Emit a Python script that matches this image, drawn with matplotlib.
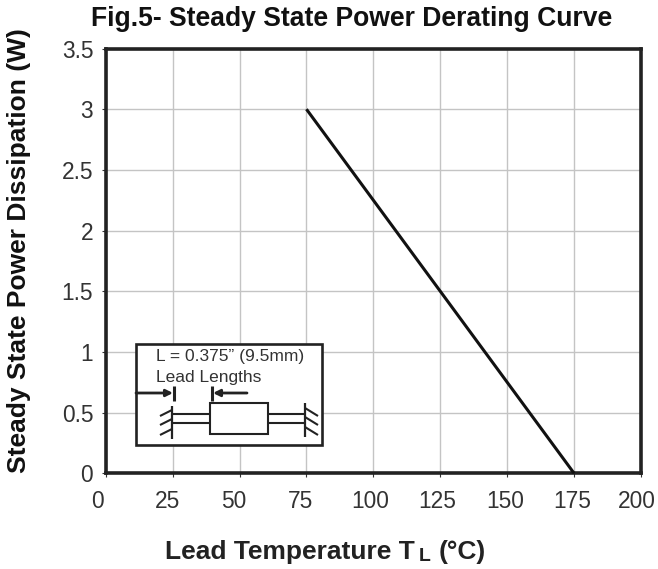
import matplotlib
matplotlib.use("Agg")
import matplotlib.pyplot as plt
from matplotlib.transforms import ScaledTranslation

plt.rcParams["font.family"] = ["Liberation Sans", "DejaVu Sans"]

temperature = [75, 175]
power = [3, 0]
x_ticks = [0, 25, 50, 75, 100, 125, 150, 175, 200]
y_ticks = [0, 0.5, 1, 1.5, 2, 2.5, 3, 3.5]
y_labels = ["0", "0.5", "1", "1.5", "2", "2.5", "3", "3.5"]

W, H = 658, 569

fig = plt.figure(figsize=(W / 100, H / 100), dpi=100)
ax = fig.add_axes([105.7 / W, 1 - 473.3 / H, (641 - 105.7) / W, (473.3 - 48.5) / H])

ax.plot(temperature, power, color="#111111", lw=2.2, solid_capstyle="butt", zorder=3, clip_on=False)
ax.set_xlim(0, 200)
ax.set_ylim(0, 3.5)
ax.set_xticks(x_ticks)
ax.set_yticks(y_ticks)
ax.set_yticklabels(y_labels)
ax.tick_params(labelsize=16.4, length=3, width=0.8, color="#333333", labelcolor="#333333")
ax.tick_params(axis="x", pad=9)
ax.tick_params(axis="y", pad=6)
ax.grid(color="#c4c4c4", lw=1.0)
ax.set_axisbelow(True)
for s in ax.spines.values():
    s.set_linewidth(2.6)
    s.set_color("#222222")

# the x labels sit a little left of their ticks in the scan
for label, dx in zip(ax.get_xticklabels(), [-8, -5.5, -6, -5.5, -3, -3, -2, -2, -4]):
    label.set_transform(label.get_transform() + ScaledTranslation(dx / 100, 0, fig.dpi_scale_trans))

fig.text(352 / W, 1 - 19 / H, "Fig.5- Steady State Power Derating Curve",
         ha="center", va="center", fontsize=19.1, fontweight="bold", color="#111111")
fig.text(19 / W, 1 - 251 / H, "Steady State Power Dissipation (W)",
         ha="center", va="center", rotation=90, fontsize=19, fontweight="bold", color="#111111")
fig.text(165 / W, 1 - 552 / H, "Lead Temperature T", ha="left", va="center",
         fontsize=19, fontweight="bold", color="#222222")
fig.text(419 / W, 1 - 561 / H, "L", ha="left", va="baseline", fontsize=14, fontweight="bold", color="#222222")
fig.text(439 / W, 1 - 552 / H, "(°C)", ha="left", va="center", fontsize=19, fontweight="bold", color="#222222")

# inset sketch, drawn in pixel coordinates on a full-figure overlay
ov = fig.add_axes([0, 0, 1, 1], facecolor="none")
ov.set_xlim(0, W)
ov.set_ylim(H, 0)
ov.axis("off")


def seg(x0, y0, x1, y1, lw=1.5):
    ov.plot([x0, x1], [y0, y1], color="#222222", lw=lw, solid_capstyle="butt")


ov.add_patch(plt.Rectangle((136, 344), 186, 101, fc="white", ec="#222222", lw=1.9))
ov.text(156, 356, "L = 0.375” (9.5mm)", fontsize=12.5, va="center", color="#333333")
ov.text(156, 377, "Lead Lengths", fontsize=12.5, va="center", color="#333333")
ov.add_patch(plt.Rectangle((210, 403), 58, 31, fc="white", ec="#222222", lw=1.5))
seg(172, 414, 210, 414)
seg(172, 423, 210, 423)
seg(268, 414, 305, 414)
seg(268, 423, 305, 423)
seg(172, 406, 172, 439, 1.6)
seg(305, 403, 305, 437, 1.6)
seg(174, 386, 174, 401, 2.2)
seg(212, 386, 212, 401, 2.2)
for y in (416, 425, 435):
    seg(160, y, 172, y - 6, 1.5)
    seg(305, y - 8, 318, y, 1.5)
ov.annotate("", xy=(173, 393), xytext=(136, 393),
            arrowprops=dict(arrowstyle="-|>", color="#222222", lw=2, shrinkA=0, shrinkB=0))
ov.annotate("", xy=(213, 393), xytext=(247, 393),
            arrowprops=dict(arrowstyle="-|>", color="#222222", lw=2, shrinkA=0, shrinkB=0))

fig.savefig("out.png", dpi=100)
